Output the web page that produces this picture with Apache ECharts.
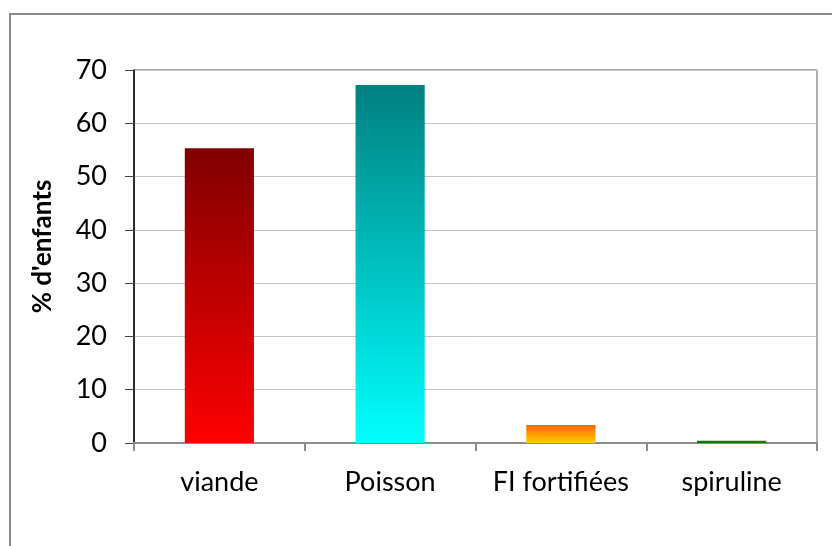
<!DOCTYPE html>
<html>
<head>
<meta charset="utf-8">
<script src="https://cdn.jsdelivr.net/npm/echarts@6/dist/echarts.min.js"></script>
<style>
  html, body { margin: 0; padding: 0; background: #fff; }
  #chart { width: 832px; height: 546px; }
</style>
</head>
<body>
<div id="chart"></div>
<script>
// Food sources eaten by children (% of children)
const categories = ['viande', 'Poisson', 'FI fortifiées', 'spiruline'];
const values = [55.3, 67.2, 3.4, 0.4];
const yTicks = { min: 0, max: 70, interval: 10 };

// top → bottom gradient colours per bar
const barGradients = [
  ['#800000', '#ff0000'],
  ['#008080', '#00ffff'],
  ['#ff6600', '#ffcc00'],
  ['#008000', '#008000']
];

const chart = echarts.init(document.getElementById('chart'));
const FONT = 'Lato, "Open Sans", sans-serif';

chart.setOption({
  animation: false,
  backgroundColor: '#fff',
  graphic: [{
    type: 'rect',
    shape: { x: 10, y: 14, width: 840, height: 560 },
    style: { fill: 'none', stroke: '#8a8a8a', lineWidth: 2 },
    silent: true,
    z: -1
  }],
  grid: {
    left: 134, top: 70, right: 15, bottom: 103,
    show: true, borderColor: '#5a5a5a', borderWidth: 1, backgroundColor: 'transparent'
  },
  xAxis: {
    type: 'category',
    data: categories,
    axisLine: { lineStyle: { color: '#8c8c8c', width: 2 } },
    axisTick: { show: true, alignWithLabel: false, length: 8, lineStyle: { color: '#8c8c8c', width: 2 } },
    axisLabel: { color: '#000', fontFamily: FONT, fontSize: 27, margin: 26, interval: 0, hideOverlap: false }
  },
  yAxis: {
    type: 'value',
    min: yTicks.min, max: yTicks.max, interval: yTicks.interval,
    name: "% d'enfants",
    nameLocation: 'middle',
    nameGap: 78,
    nameTextStyle: { color: '#000', fontFamily: FONT, fontSize: 26, fontWeight: 'bold', padding: [0, 0, 0, 20] },
    axisLine: { show: true, lineStyle: { color: '#000', width: 1.5 } },
    axisTick: { show: true, length: 9, lineStyle: { color: '#444' } },
    axisLabel: { color: '#000', fontFamily: FONT, fontSize: 27, margin: 27 },
    splitLine: { show: true, lineStyle: { color: '#c4c4c4', width: 1 } }
  },
  series: [{
    type: 'bar',
    barWidth: '40.5%',
    data: values.map((v, i) => ({
      value: v,
      itemStyle: {
        color: new echarts.graphic.LinearGradient(0, 0, 0, 1, [
          { offset: 0, color: barGradients[i][0] },
          { offset: 1, color: barGradients[i][1] }
        ])
      }
    }))
  }]
});
</script>
</body>
</html>
